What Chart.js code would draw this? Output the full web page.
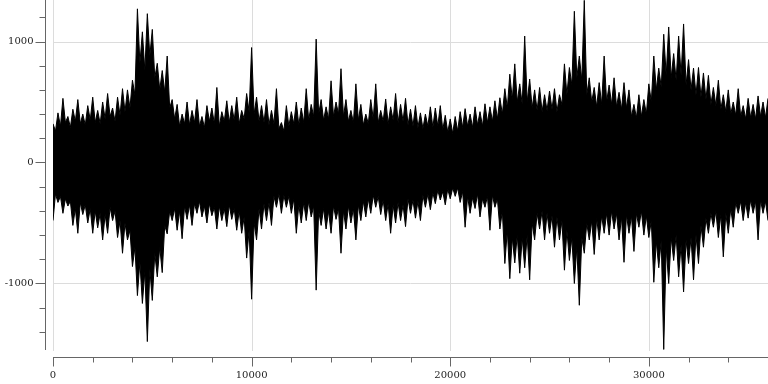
<!DOCTYPE html>
<html>
<head>
<meta charset="utf-8">
<script src="https://cdn.jsdelivr.net/npm/chart.js@4.4.0/dist/chart.umd.min.js"></script>
<style>
  html, body { margin: 0; padding: 0; background: #fff; }
</style>
</head>
<body>
<canvas id="chart" width="768" height="384"></canvas>
<script>
// sample spacing along x: a spike tip every step, a body edge half-way between
const sampleStep = 250;

// spike tips above zero
const upperPeaks = [
  320, 410, 530, 380, 440, 520, 400, 470, 540, 430, 500, 570, 450, 540, 610,
  600, 680, 1270, 1080, 1230, 1100, 820, 760, 880, 520,
  480, 400, 500, 430, 520, 380, 470, 450, 620, 420, 510, 470, 540, 430, 570,
  950,
  540, 470, 520, 430, 610, 330, 470, 420, 500, 450, 610, 480, 1020, 520, 460, 675, 500, 775, 520, 430,
  650, 480, 400, 520, 650, 430, 525, 460, 570, 480, 530, 440, 470, 410, 400, 460, 450, 470, 390, 360,
  380, 420, 445, 400, 460, 420, 485, 460, 510, 535, 610, 730, 815, 650, 1045, 690, 600, 620, 560, 590,
  610, 560, 815, 785,
  1250, 880, 1340, 700, 620, 660, 880, 640, 700, 580, 660, 600, 480, 560, 520, 650, 880, 780, 1060, 1120,
  900, 1045, 1145, 850, 780, 785, 740, 720, 620, 680, 560, 600, 500, 610, 470, 530, 480, 550, 500, 530
];

// solid edge between two upper tips
const upperBody = [
  260, 300, 330, 290, 340, 320, 310, 350, 330, 320, 360, 380, 340, 390, 420, 450, 560, 820, 760, 880,
  700, 600, 580, 450, 360,
  300, 320, 310, 330, 300, 290, 340, 320, 300, 340, 330, 350, 320, 360, 420,
  400,
  340, 330, 310, 320, 280, 260, 300, 320, 310, 330, 350, 380, 400, 350, 360, 380, 400, 380, 340, 330,
  350, 310, 320, 360, 330, 340, 320, 350, 330, 340, 310, 300, 290, 280, 300, 290, 300, 270, 250, 240,
  260, 290, 300, 290, 310, 300, 330, 340, 360, 400, 450, 520, 500, 480, 500, 450, 430, 420, 430, 440,
  420, 480, 560, 640,
  700, 680, 560, 500, 460, 480, 500, 480, 460, 440, 450, 380, 370, 380, 400, 500, 600, 620, 720, 700,
  680, 720, 640, 600, 560, 540, 520, 480, 470, 440, 420, 400, 390, 380, 360, 370, 360, 380, 370
];

// spike tips below zero
const lowerPeaks = [
  -480, -330, -420, -360, -520, -585, -430, -500, -585, -540, -640, -585, -480, -620, -750, -640, -860,
  -1100, -1165, -1480, -1140, -945, -910, -590, -480, -560, -630, -470, -520, -420, -450, -500, -440,
  -550, -480, -530, -470, -560, -585, -790, -1130,
  -640, -550, -480, -520, -370, -420, -370, -420, -585, -500, -480, -450, -1055, -520, -550, -585, -470,
  -750, -550, -500, -640, -480, -450, -420, -370, -430, -480, -585, -500, -480, -530, -420, -460, -480,
  -370, -390, -340, -310, -350, -300,
  -280, -330, -535, -420, -380, -450, -370, -560, -370, -550, -835, -960, -830, -915, -870, -970, -640,
  -550, -640, -585, -700, -640, -890, -810, -1000, -1180, -750, -640, -760, -640, -585, -600, -550, -640,
  -825, -585, -735, -535, -600,
  -620, -990, -870, -1545, -1000, -810, -945, -1070, -835, -970, -835, -700, -585, -535, -620, -780, -585,
  -535, -420, -480, -460, -420, -640, -420, -480
];

// solid edge between two lower tips
const lowerBody = [
  -260, -280, -300, -320, -380, -330, -350, -380, -400, -420, -430, -370, -400, -480, -500, -560, -700,
  -820, -900, -880, -750, -700, -520, -400, -380, -400, -360, -350, -340, -320, -360, -340, -370, -360,
  -380, -350, -380, -400, -450, -560, -500,
  -380, -340, -330, -280, -260, -270, -280, -300, -350, -330, -320, -360, -400, -380, -400, -360, -380,
  -400, -360, -380, -350, -320, -300, -270, -280, -310, -340, -350, -330, -350, -300, -310, -320, -270,
  -260, -250, -230, -240, -220, -210,
  -210, -240, -280, -290, -260, -300, -280, -270, -300, -400, -560, -620, -600, -620, -600, -500, -420,
  -400, -420, -440, -450, -480, -560, -620, -700, -620, -500, -480, -460, -440, -420, -400, -420, -450,
  -430, -440, -420, -400, -440,
  -480, -650, -640, -700, -620, -600, -680, -640, -620, -600, -520, -460, -420, -400, -430, -420, -380,
  -330, -320, -330, -310, -320, -310, -320
];

const xMajorTicks = [0, 10000, 20000, 30000];
const xMinorTicks = [2000, 4000, 6000, 8000, 12000, 14000, 16000, 18000, 22000, 24000, 26000, 28000, 32000, 34000];
const yMajorTicks = [-1000, 0, 1000];
const yMinorTicks = [-1400, -1200, -800, -600, -400, -200, 200, 400, 600, 800, 1200];

// tip, body, tip, body ... along x
function edgePoints(peaks, body) {
  const pts = [];
  peaks.forEach((v, i) => {
    pts.push({ x: i * sampleStep, y: v });
    if (i < body.length) pts.push({ x: i * sampleStep + sampleStep / 2, y: body[i] });
  });
  return pts;
}

const axisColor = '#666';
const gridColor = '#dcdcdc';
const labelFont = '10px "DejaVu Serif"';

// axes drawn detached from the plot area, like the reference
const offsetAxes = {
  id: 'offsetAxes',
  beforeDatasetsDraw(chart) {
    const { ctx, chartArea: a, scales: { x, y } } = chart;
    ctx.save();
    ctx.strokeStyle = gridColor;
    ctx.lineWidth = 1;
    xMajorTicks.forEach(v => {
      const px = Math.round(x.getPixelForValue(v)) + 0.5;
      ctx.beginPath(); ctx.moveTo(px, a.top); ctx.lineTo(px, a.bottom); ctx.stroke();
    });
    yMajorTicks.forEach(v => {
      const py = Math.round(y.getPixelForValue(v)) + 0.5;
      ctx.beginPath(); ctx.moveTo(a.left, py); ctx.lineTo(a.right, py); ctx.stroke();
    });
    ctx.restore();
  },
  afterDraw(chart) {
    const { ctx, chartArea: a, scales: { x, y } } = chart;
    const spineX = a.left - 7.5;
    const spineY = a.bottom + 6.5;
    ctx.save();
    ctx.strokeStyle = axisColor;
    ctx.lineWidth = 1;

    // y spine + ticks
    ctx.beginPath(); ctx.moveTo(spineX, a.top); ctx.lineTo(spineX, a.bottom - 1); ctx.stroke();
    yMinorTicks.concat(yMajorTicks).forEach(v => {
      const py = Math.round(y.getPixelForValue(v)) + 0.5;
      const len = yMajorTicks.includes(v) ? 10 : 6;
      ctx.beginPath(); ctx.moveTo(spineX - len, py); ctx.lineTo(spineX, py); ctx.stroke();
    });

    // x spine + ticks
    ctx.beginPath(); ctx.moveTo(a.left, spineY); ctx.lineTo(a.right, spineY); ctx.stroke();
    xMinorTicks.concat(xMajorTicks).forEach(v => {
      const px = Math.round(x.getPixelForValue(v)) + 0.5;
      const len = xMajorTicks.includes(v) ? 9 : 5;
      ctx.beginPath(); ctx.moveTo(px, spineY); ctx.lineTo(px, spineY + len); ctx.stroke();
    });

    // labels
    ctx.fillStyle = '#222';
    ctx.font = labelFont;
    ctx.textAlign = 'right';
    ctx.textBaseline = 'middle';
    yMajorTicks.forEach(v => {
      ctx.fillText(String(v), spineX - 12, y.getPixelForValue(v));
    });
    ctx.textAlign = 'center';
    xMajorTicks.forEach(v => {
      ctx.fillText(String(v), x.getPixelForValue(v), spineY + 18);
    });
    ctx.restore();
  }
};

new Chart(document.getElementById('chart'), {
  type: 'line',
  data: {
    datasets: [{
      data: edgePoints(upperPeaks, upperBody),
      borderColor: '#000',
      backgroundColor: '#000',
      borderWidth: 1,
      pointRadius: 0,
      fill: false
    }, {
      data: edgePoints(lowerPeaks, lowerBody),
      borderColor: '#000',
      backgroundColor: '#000',
      borderWidth: 1,
      pointRadius: 0,
      fill: '-1'
    }]
  },
  options: {
    responsive: false,
    animation: false,
    devicePixelRatio: 1,
    layout: { padding: { left: 53, right: 0, top: 0, bottom: 33 } },
    plugins: {
      legend: { display: false },
      tooltip: { enabled: false }
    },
    scales: {
      x: { type: 'linear', min: 0, max: 36000, display: false },
      y: { min: -1558, max: 1343, display: false }
    }
  },
  plugins: [offsetAxes]
});
</script>
</body>
</html>
